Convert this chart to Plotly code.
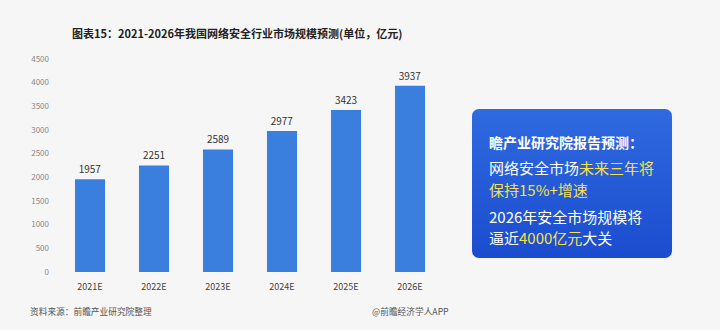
import math
import plotly.graph_objects as go

categories = ["2021E", "2022E", "2023E", "2024E", "2025E", "2026E"]
values = [1957, 2251, 2589, 2977, 3423, 3937]
y_ticks = [0, 500, 1000, 1500, 2000, 2500, 3000, 3500, 4000, 4500]

title_text = "图表15：2021-2026年我国网络安全行业市场规模预测(单位，亿元)"
source_text = "资料来源：前瞻产业研究院整理"
brand_text = "@前瞻经济学人APP"

FONT = "Noto Sans CJK SC"
W, H = 720, 330
L, R, T, B = 58, 442, 59, 272

fig = go.Figure()
fig.add_trace(go.Bar(
    x=categories, y=values, width=0.47,
    marker=dict(color="#3a7fde", line=dict(width=0)),
    text=[str(v) for v in values], textposition="outside",
    textfont=dict(family=FONT, size=10, color="#333333"),
    cliponaxis=False, hoverinfo="skip",
))

# decorative rounded box drawn on a full-page pixel axis pair
x0, y0, x1, y1, r = 472, 109, 672, 258, 7
bx, by = [], []
corners = [(x1 - r, y0 + r, -90, 0), (x1 - r, y1 - r, 0, 90), (x0 + r, y1 - r, 90, 180), (x0 + r, y0 + r, 180, 270)]
for cx, cy, a0, a1 in corners:
    for k in range(9):
        a = math.radians(a0 + (a1 - a0) * k / 8)
        bx.append(cx + r * math.cos(a))
        by.append(cy + r * math.sin(a))
bx.append(bx[0]); by.append(by[0])
fig.add_trace(go.Scatter(
    x=bx, y=by, xaxis="x2", yaxis="y2", mode="lines", fill="toself",
    line=dict(width=0, color="rgba(0,0,0,0)"),
    fillgradient=dict(type="vertical", colorscale=[[0, "#1b4cce"], [1, "#2f6ae0"]]),
    hoverinfo="skip",
))

fig.update_layout(
    width=W, height=H,
    margin=dict(l=0, r=0, t=0, b=0, pad=0),
    paper_bgcolor="#f6f6f6", plot_bgcolor="rgba(0,0,0,0)",
    showlegend=False,
    xaxis=dict(domain=[L / W, R / W], showgrid=False, zeroline=False, showline=False, ticks="",
               automargin=False, ticklabelstandoff=8,
               tickfont=dict(family=FONT, size=9, color="#444444")),
    yaxis=dict(domain=[(H - B) / H, (H - T) / H], range=[0, 4500], tickvals=y_ticks,
               showgrid=False, zeroline=False, automargin=False,
               showline=False, ticks="", ticklabelstandoff=8,
               tickfont=dict(family=FONT, size=8, color="#888888")),
    xaxis2=dict(domain=[0, 1], range=[0, W], visible=False, anchor="y2", fixedrange=True),
    yaxis2=dict(domain=[0, 1], range=[H, 0], visible=False, anchor="x2", fixedrange=True),
    font=dict(family=FONT),
)

def px_x(x):
    return x / W

def px_y(y):
    return 1 - y / H

fig.add_annotation(xref="paper", yref="paper", x=px_x(70), y=px_y(33),
                   text="<b>" + title_text + "</b>", showarrow=False, xanchor="left", yanchor="middle",
                   font=dict(family=FONT, size=11, color="#222222"))

fig.add_annotation(xref="paper", yref="paper", x=px_x(28), y=px_y(311),
                   text=source_text, showarrow=False, xanchor="left", yanchor="middle",
                   font=dict(family=FONT, size=8.7, color="#555555"))
fig.add_annotation(xref="paper", yref="paper", x=px_x(370), y=px_y(311),
                   text=brand_text, showarrow=False, xanchor="left", yanchor="middle",
                   font=dict(family=FONT, size=8.7, color="#555555"))

box_lines = [
    (142, "<b>瞻产业研究院报告预测：</b>", 14),
    (168, "网络安全市场<span style='color:#f7e04a'>未来三年将</span>", 15),
    (189, "<span style='color:#f7e04a'>保持15%+增速</span>", 15),
    (216, "2026年安全市场规模将", 15),
    (237, "逼近<span style='color:#f7e04a'>4000亿元</span>大关", 15),
]
for yy, txt, sz in box_lines:
    fig.add_annotation(xref="paper", yref="paper", x=px_x(487), y=px_y(yy), text=txt, showarrow=False,
                       xanchor="left", yanchor="middle",
                       font=dict(family=FONT, size=sz, color="#ffffff"))

fig.write_html("out.html")
